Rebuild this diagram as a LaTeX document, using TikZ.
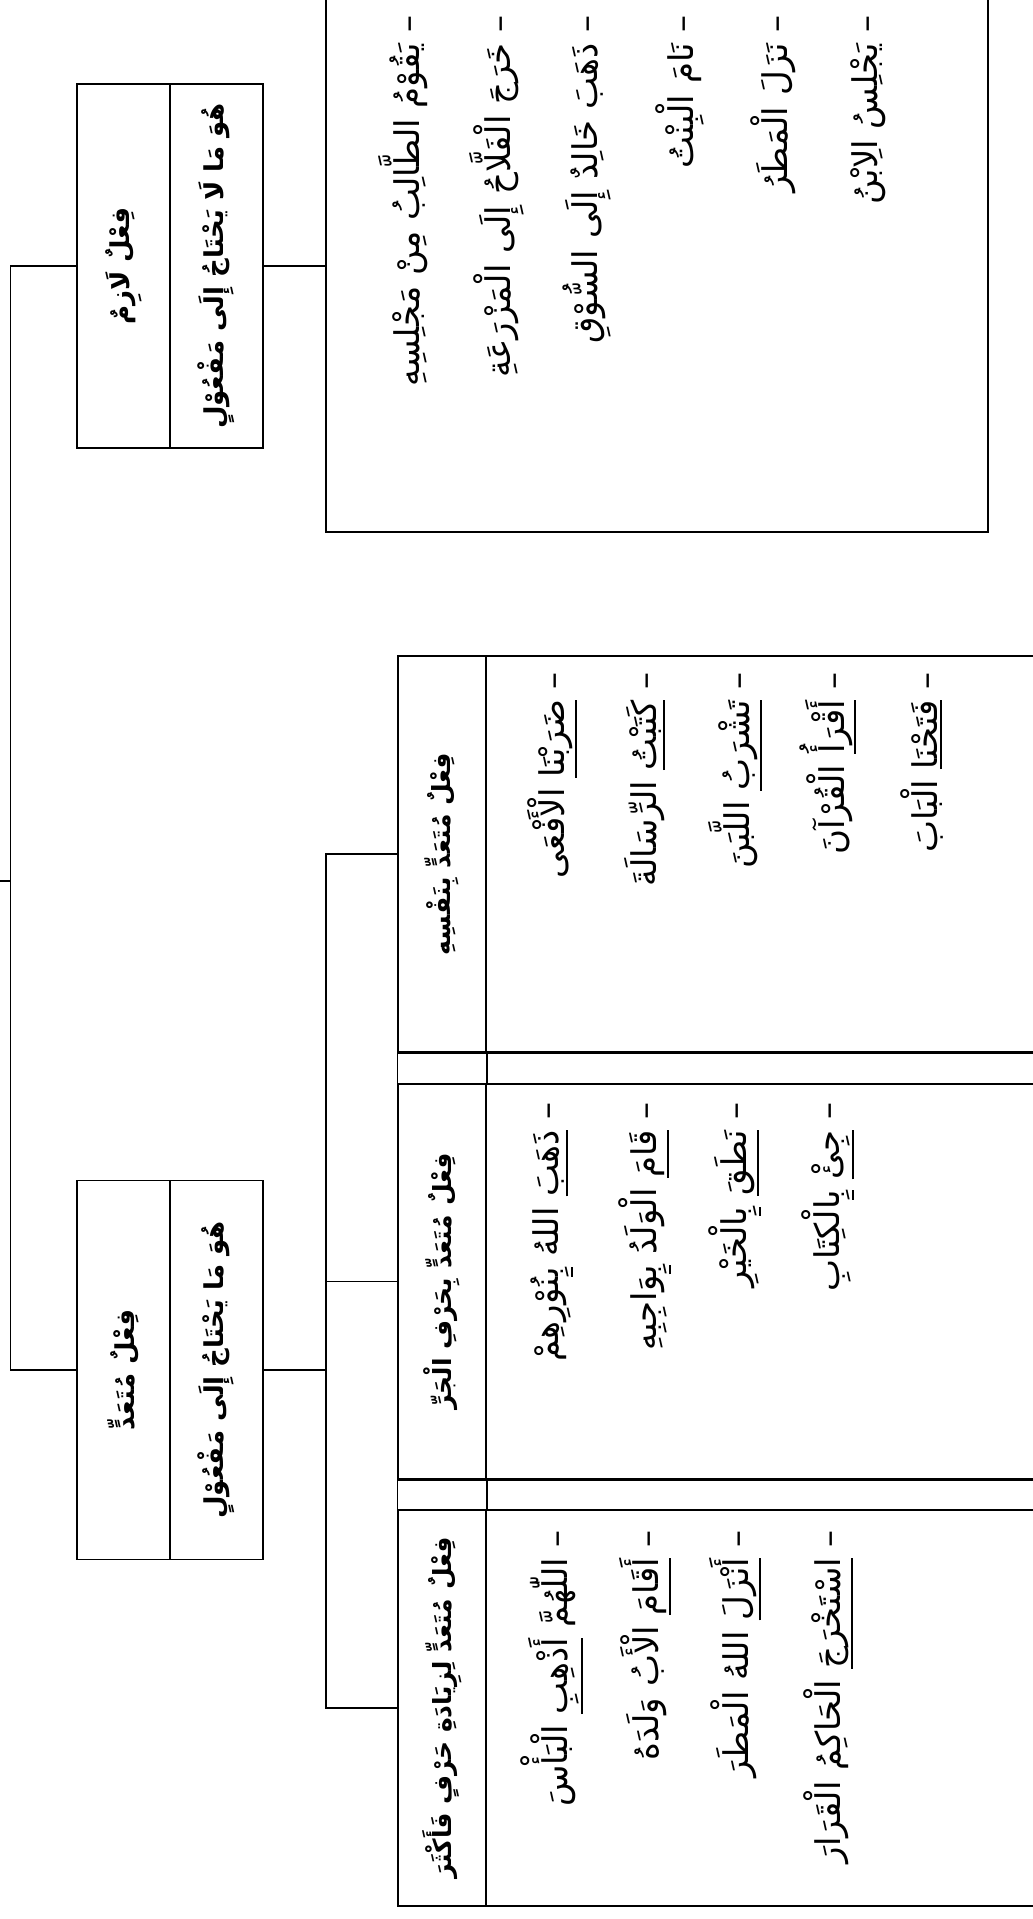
\documentclass[tikz,border=0pt]{standalone}
\usepackage{fontspec}
\usepackage{graphicx}
\TeXXeTstate=1
\newfontfamily\arabicfont[Script=Arabic]{DejaVu Sans}
\newcommand{\ar}[1]{\arabicfont\beginR #1\endR}
\newcommand{\vtxt}[1]{\rotatebox{90}{\ar{#1}}}
\newcommand{\ulv}[1]{\vtop{\hbox{\beginR #1\endR}\kern2pt\hrule height 2pt}}
\newcommand{\zwj}{^^^^200d}

\tikzset{
  box/.style={draw, line width=1.5pt, inner sep=0pt},
  head/.style={box, font=\fontsize{26}{32}\selectfont\bfseries},
  subhead/.style={box, font=\fontsize{25}{30}\selectfont\bfseries},
  ex/.style={rotate=90, anchor=east, inner sep=0pt, font=\fontsize{34}{40}\selectfont},
  link/.style={line width=1.5pt},
}

\begin{document}
\begin{tikzpicture}[x=1pt, y=-1pt]
    \useasboundingbox (0,0) rectangle (1033,1919);
    \clip (0,0) rectangle (1033,1919);

    % Fi'l lazim
    \node[head, minimum width=93pt, minimum height=364pt] (lzHead) at (123.5,266) {\vtxt{فِعْلٌ لَازِمٌ}};
    \node[head, minimum width=93pt, minimum height=364pt] (lzDef) at (216.5,266) {\vtxt{هُوَ مَا لَا يَحْتَاجُ إِلَى مَفْعُوْلٍ}};
    \node[box, minimum width=662pt, minimum height=552pt] (lzEx) at (657,256) {};

    \node[ex] (lz1) at (403,15) {\ar{– يَقُوْمُ الطَّالِبُ مِنْ مَجْلِسِهِ}};
    \node[ex] (lz2) at (497,15) {\ar{– خَرَجَ الْفَلَّاحُ إِلَى الْمَزْرَعَةِ}};
    \node[ex] (lz3) at (587,15) {\ar{– ذَهَبَ خَالِدٌ إِلَى السُّوْقِ}};
    \node[ex] (lz4) at (680,15) {\ar{– نَامَ الْبِنْتُ}};
    \node[ex] (lz5) at (773,15) {\ar{– نَزَلَ الْمَطَرُ}};
    \node[ex] (lz6) at (868,15) {\ar{– يَجْلِسُ الِابْنُ}};

    % Fi'l muta'addi
    \node[head, minimum width=93pt, minimum height=379pt] (tdHead) at (123.5,1370) {\vtxt{فِعْلٌ مُتَعَدٍّ}};
    \node[head, minimum width=93pt, minimum height=379pt] (tdDef) at (216.5,1370) {\vtxt{هُوَ مَا يَحْتَاجُ إِلَى مَفْعُوْلٍ}};

    % Sub-kinds
    \node[subhead, minimum width=88pt, minimum height=396pt] (s1Head) at (442,854) {\vtxt{فِعْلٌ مُتَعَدٍّ بِنَفْسِهِ}};
    \node[box, minimum width=564pt, minimum height=396pt] (s1Ex) at (768,854) {};
    \node[subhead, minimum width=88pt, minimum height=395pt] (s2Head) at (442,1281.5) {\vtxt{فِعْلٌ مُتَعَدٍّ بِحَرْفِ الْجَرِّ}};
    \node[box, minimum width=564pt, minimum height=395pt] (s2Ex) at (768,1281.5) {};
    \node[subhead, minimum width=88pt, minimum height=396pt] (s3Head) at (442,1708) {\vtxt{فِعْلٌ مُتَعَدٍّ لِزِيَادَةِ حَرْفٍ فَأَكْثَرَ}};
    \node[box, minimum width=564pt, minimum height=396pt] (s3Ex) at (768,1708) {};

    % empty rows between the sub-kinds
    \draw[line width=1.5pt] (s1Head.south west) rectangle (s2Ex.north east);
    \draw[line width=1.5pt] (s1Head.south east) -- (s2Head.north east);
    \draw[line width=1.5pt] (s2Head.south west) rectangle (s3Ex.north east);
    \draw[line width=1.5pt] (s2Head.south east) -- (s3Head.north east);

    % Examples - binafsihi
    \node[ex] (a1) at (552,672) {\ar{– \ulv{ضَرَبْنَا} الْأَفْعَى}};
    \node[ex] (a2) at (645,672) {\ar{– \ulv{كَتَبْتُ} الرِّسَالَةَ}};
    \node[ex] (a3) at (735,672) {\ar{– \ulv{تَشْرَبُ} اللَّبَنَ}};
    \node[ex] (a4) at (828,672) {\ar{– \ulv{أَقْرَأُ} الْقُرْآنَ}};
    \node[ex] (a5) at (922,672) {\ar{– \ulv{فَتَحْنَا} الْبَابَ}};

    % Examples - bi-harf al-jarr
    \node[ex] (b1) at (552,1102) {\ar{– \ulv{ذَهَبَ} اللهُ \ulv{بِ\zwj}\zwj نُوْرِهِمْ}};
    \node[ex] (b2) at (645,1102) {\ar{– \ulv{قَامَ} الْوَلَدُ \ulv{بِ\zwj}\zwj وَاجِبِهِ}};
    \node[ex] (b3) at (735,1102) {\ar{– \ulv{نَطَقَ} \ulv{بِ\zwj}\zwj الْخَيْرِ}};
    \node[ex] (b4) at (828,1102) {\ar{– \ulv{جِئْ} \ulv{بِ\zwj}\zwj الْكِتَابِ}};

    % Examples - li-ziyadat harf
    \node[ex] (c1) at (552,1530) {\ar{– اللّٰهُمَّ \ulv{أَذْهِبِ} الْبَأْسَ}};
    \node[ex] (c2) at (645,1530) {\ar{– \ulv{أَقَامَ} الْأَبُ وَلَدَهُ}};
    \node[ex] (c3) at (735,1530) {\ar{– \ulv{أَنْزَلَ} اللهُ الْمَطَرَ}};
    \node[ex] (c4) at (828,1530) {\ar{– \ulv{اسْتَخْرَجَ} الْحَاكِمُ الْقَرَارَ}};

    % Connectors
    \coordinate (root) at (0,881);
    \draw[link] (lzHead.west) -- ++(-66,0) coordinate (bus) |- (tdHead.west);
    \draw[link] (root) -- (root -| bus);
    \draw[link] (lzDef.east) -- (lzDef.east -| lzEx.west);
    \draw[link] (tdDef.east) -- ++(62,0) coordinate (sbus);
    \draw[link] (s1Head.west) -- (s1Head.west -| sbus) -- (s3Head.west -| sbus) -- (s3Head.west);
    \draw[link] (s2Head.west) -- (s2Head.west -| sbus);

\end{tikzpicture}
\end{document}
